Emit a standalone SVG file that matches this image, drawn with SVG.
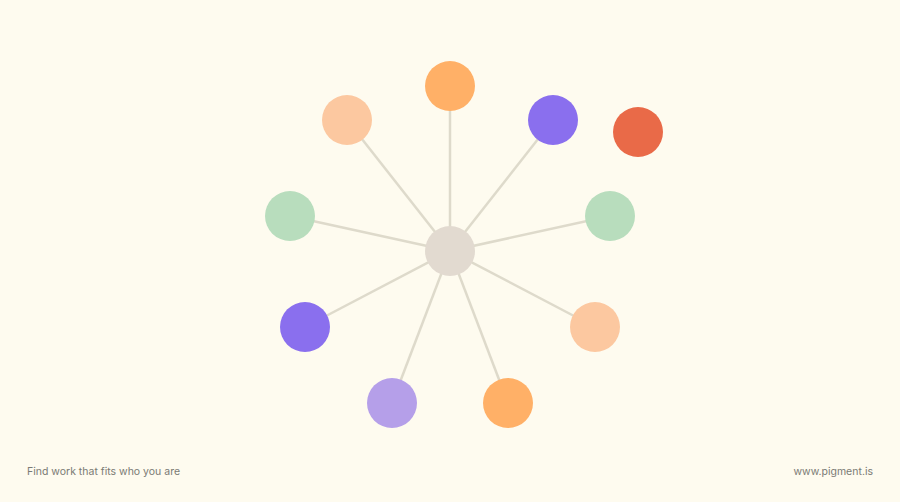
<svg xmlns="http://www.w3.org/2000/svg" width="900" height="502" viewBox="0 0 900 502">
<style>
.edge{stroke:#DEDACB;stroke-width:2.5;fill:none}
.lbl{font-family:"Inter","Liberation Sans",sans-serif;font-size:10.5px;fill:#7a7a74}
</style>
<rect width="900" height="502" fill="#FEFBEF"/>
<g id="connectors">
<line class="edge" x1="450" y1="251" x2="450" y2="86"/>
<line class="edge" x1="450" y1="251" x2="347" y2="120"/>
<line class="edge" x1="450" y1="251" x2="553" y2="120"/>
<line class="edge" x1="450" y1="251" x2="290" y2="216"/>
<line class="edge" x1="450" y1="251" x2="610" y2="216"/>
<line class="edge" x1="450" y1="251" x2="305" y2="327"/>
<line class="edge" x1="450" y1="251" x2="595" y2="327"/>
<line class="edge" x1="450" y1="251" x2="392" y2="403"/>
<line class="edge" x1="450" y1="251" x2="508" y2="403"/>
</g>
<g id="n-top"><circle cx="450" cy="86" r="25" fill="#FFB067"/></g>
<g id="n-peach-tl"><circle cx="347" cy="120" r="25" fill="#FCC8A0"/></g>
<g id="n-purple-tr"><circle cx="553" cy="120" r="25" fill="#8A6FEE"/></g>
<g id="n-red"><circle cx="638" cy="132" r="25" fill="#E96A48"/></g>
<g id="n-green-l"><circle cx="290" cy="216" r="25" fill="#B8DDBD"/></g>
<g id="n-green-r"><circle cx="610" cy="216" r="25" fill="#B8DDBD"/></g>
<g id="n-purple-l"><circle cx="305" cy="327" r="25" fill="#8A6FEE"/></g>
<g id="n-peach-r"><circle cx="595" cy="327" r="25" fill="#FCC8A0"/></g>
<g id="n-lavender"><circle cx="392" cy="403" r="25" fill="#B59FE9"/></g>
<g id="n-orange-b"><circle cx="508" cy="403" r="25" fill="#FFB067"/></g>
<g id="n-center"><circle cx="450" cy="251" r="25" fill="#E2DAD0"/></g>
<text class="lbl" x="27" y="475">Find work that fits who you are</text>
<text class="lbl" x="873" y="475" text-anchor="end">www.pigment.is</text>
</svg>
